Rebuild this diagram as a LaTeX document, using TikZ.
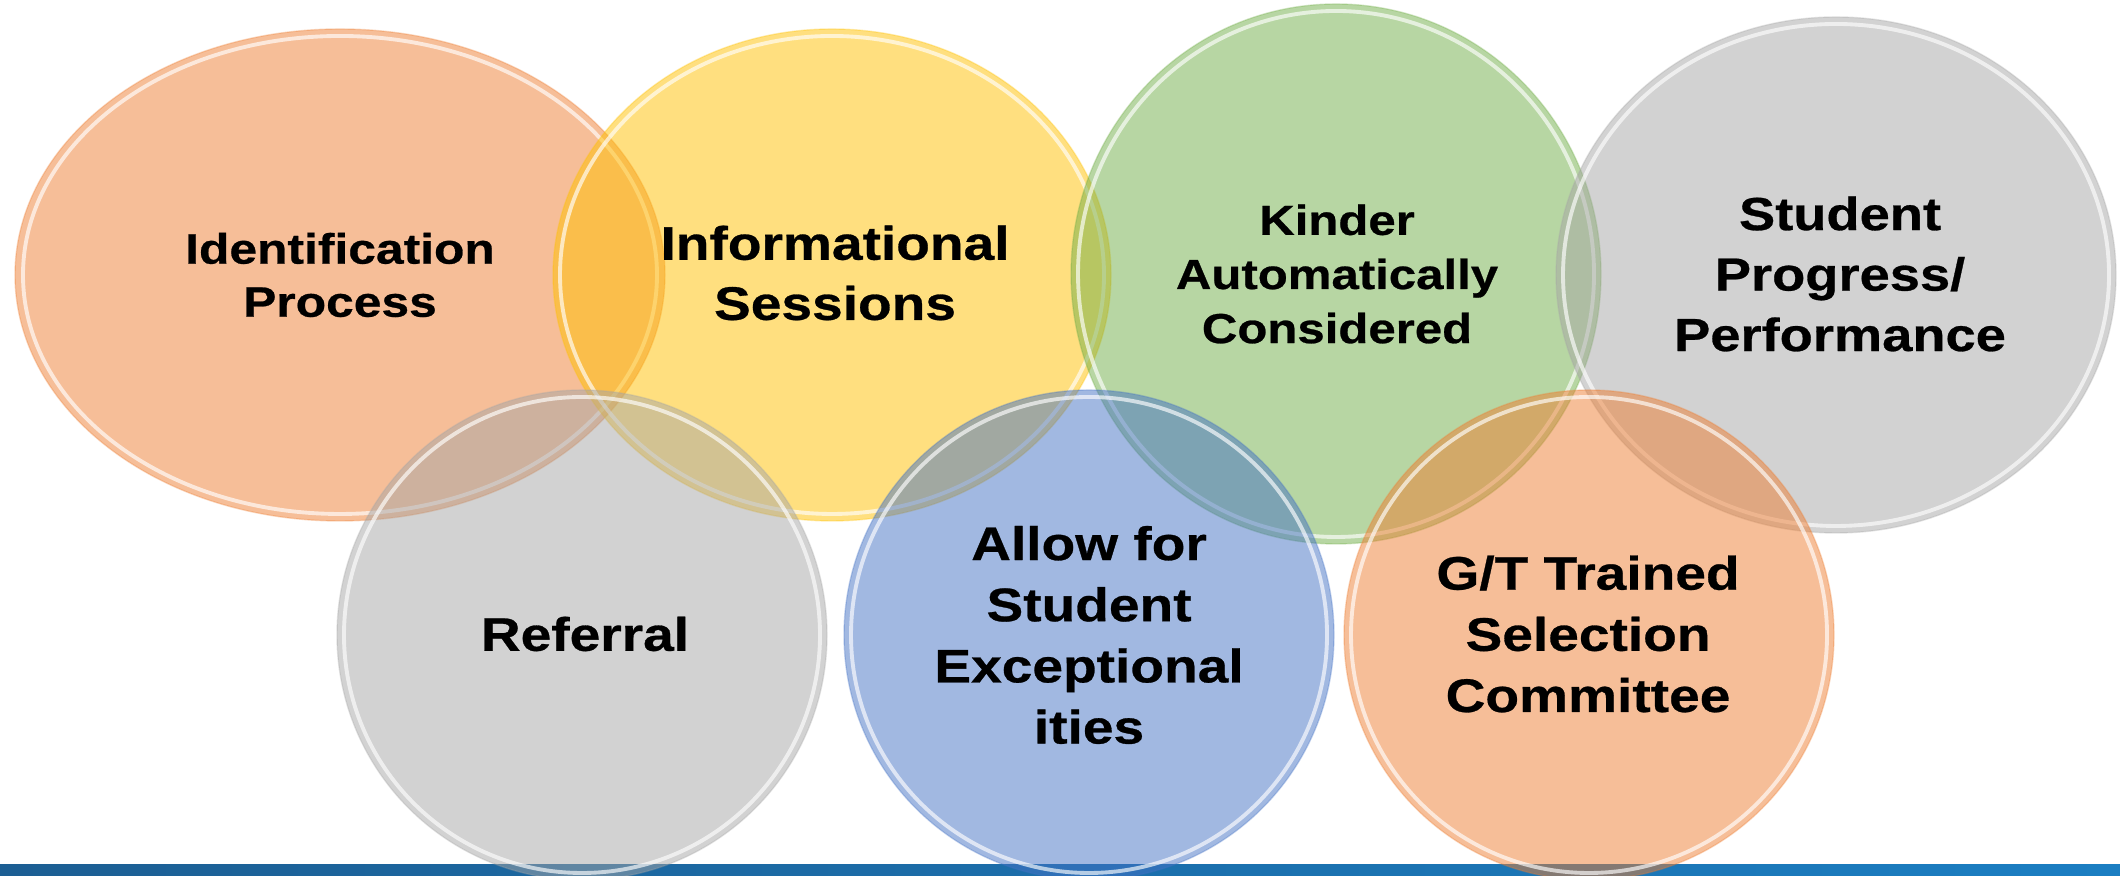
\documentclass[tikz,border=0pt]{standalone}
\usepackage{fontspec}
\newfontfamily\lblfont{Liberation Sans Bold}[FakeStretch=1.17, FakeBold=0.6]
\usetikzlibrary{shapes.geometric}
\definecolor{cOrange}{HTML}{ED7D31}
\definecolor{cYellow}{HTML}{FFC000}
\definecolor{cGreen}{HTML}{70AD47}
\definecolor{cGray}{HTML}{A5A5A5}
\definecolor{cBlue}{HTML}{4472C4}
\definecolor{barL}{HTML}{1C5E93}
\definecolor{barR}{HTML}{1B7EC2}
\tikzset{
  blob/.style={ellipse, inner sep=0pt, outer sep=0pt, fill=#1, fill opacity=0.5,
    draw=#1, draw opacity=0.3, line width=0.4pt},
  shine/.style={draw=white, draw opacity=0.65, line width=1.1pt},
  lbl/.style={align=center, text=black, inner sep=0pt}
}
\begin{document}
\begin{tikzpicture}
\useasboundingbox (0,0) rectangle (21.2,8.76);
\clip (0,0) rectangle (21.2,8.76);
% bottom bar
\fill[left color=barL, right color=barR] (0,0) rectangle (21.2,0.11);
% top row
\node[blob=cOrange, minimum width=6.50cm, minimum height=4.92cm] (e1) at (3.40,6.01) {};
\draw[shine] (e1.center) ellipse [x radius=3.17cm, y radius=2.39cm];
\node[blob=cYellow, minimum width=5.58cm, minimum height=4.92cm] (e2) at (8.32,6.01) {};
\draw[shine] (e2.center) ellipse [x radius=2.72cm, y radius=2.39cm];
\node[blob=cGreen, minimum width=5.30cm, minimum height=5.40cm] (e3) at (13.36,6.02) {};
\draw[shine] (e3.center) ellipse [x radius=2.58cm, y radius=2.63cm];
\node[blob=cGray, minimum width=5.60cm, minimum height=5.16cm] (e4) at (18.36,6.01) {};
\draw[shine] (e4.center) ellipse [x radius=2.73cm, y radius=2.51cm];
% bottom row
\node[blob=cGray, minimum width=4.90cm, minimum height=4.90cm] (e5) at (5.82,2.41) {};
\draw[shine] (e5.center) ellipse [x radius=2.38cm, y radius=2.38cm];
\node[blob=cBlue, minimum width=4.90cm, minimum height=4.90cm] (e6) at (10.89,2.41) {};
\draw[shine] (e6.center) ellipse [x radius=2.38cm, y radius=2.38cm];
\node[blob=cOrange, minimum width=4.90cm, minimum height=4.90cm] (e7) at (15.89,2.41) {};
\draw[shine] (e7.center) ellipse [x radius=2.38cm, y radius=2.38cm];
% labels
\node[lbl, font={\lblfont\fontsize{12.1}{15.1}\selectfont}] (t1) at (3.40,6.01) {Identification\\Process};
\node[lbl, font={\lblfont\fontsize{13.4}{17.1}\selectfont}] (t2) at (8.35,6.03) {Informational\\Sessions};
\node[lbl, font={\lblfont\fontsize{11.95}{15.4}\selectfont}] (t3) at (13.37,6.02) {Kinder\\Automatically\\Considered};
\node[lbl, font={\lblfont\fontsize{13.2}{17.2}\selectfont}] (t4) at (18.40,6.02) {Student\\Progress/\\Performance};
\node[lbl, font={\lblfont\fontsize{13.4}{17.4}\selectfont}] (t5) at (5.85,2.42) {Referral};
\node[lbl, font={\lblfont\fontsize{13.4}{17.4}\selectfont}] (t6) at (10.89,2.41) {Allow for\\Student\\Exceptional\\ities};
\node[lbl, font={\lblfont\fontsize{13.4}{17.4}\selectfont}] (t7) at (15.88,2.42) {G/T Trained\\Selection\\Committee};
\end{tikzpicture}
\end{document}
